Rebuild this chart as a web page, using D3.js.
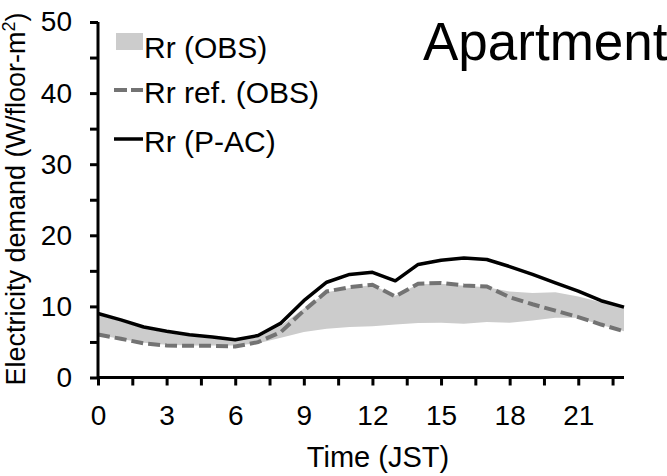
<!DOCTYPE html>
<html><head><meta charset="utf-8">
<script src="https://cdn.jsdelivr.net/npm/d3@7"></script>
<style>
html,body{margin:0;padding:0;background:#fff;}
svg{display:block;font-family:"Liberation Sans",Arial,sans-serif;}
</style></head>
<body>
<svg id="c" width="667" height="476"></svg>
<script>
const hours = [0,1,2,3,4,5,6,7,8,9,10,11,12,13,14,15,16,17,18,19,20,21,22,23];
const rrPAC = [9.0,8.1,7.1,6.5,6.0,5.7,5.3,5.9,7.65,10.8,13.4,14.5,14.8,13.6,15.9,16.5,16.8,16.6,15.6,14.5,13.3,12.15,10.8,9.9];
const rrRef = [6.05,5.45,4.8,4.5,4.45,4.45,4.35,4.97,6.4,9.4,12.1,12.7,13.05,11.4,13.2,13.3,12.95,12.8,11.3,10.3,9.4,8.5,7.45,6.5];
const obsLow = [6.0,5.4,4.9,4.6,4.5,4.5,4.5,4.8,5.6,6.4,6.85,7.1,7.2,7.45,7.65,7.7,7.55,7.8,7.7,8.0,8.4,8.4,7.4,6.5];
const obsHigh = [8.8,7.9,6.9,6.3,5.85,5.5,5.2,5.7,7.3,9.7,12.0,12.6,13.0,11.5,13.1,13.2,12.9,12.7,12.1,11.9,12.0,11.4,10.6,9.8];
const xTickLabels = [0,3,6,9,12,15,18,21];
const yTickLabels = [0,10,20,30,40,50];
const legendLabels = ["Rr (OBS)","Rr ref. (OBS)","Rr (P-AC)"];
const panelTitle = "Apartment";

const svg = d3.select("#c");
const x = d3.scaleLinear().domain([0,23]).range([98,624]);
const y = d3.scaleLinear().domain([0,50]).range([377.5,22]);

const band = hours.map((h,i)=>({h, lo:obsLow[i], hi:obsHigh[i]}));
svg.append("path").datum(band)
  .attr("d", d3.area().x(d=>x(d.h)).y0(d=>y(d.lo)).y1(d=>y(d.hi)))
  .attr("fill","#cccccc");

svg.append("path").datum(hours.map((h,i)=>[h,rrRef[i]]))
  .attr("d", d3.line().x(d=>x(d[0])).y(d=>y(d[1])))
  .attr("fill","none").attr("stroke","#737373").attr("stroke-width",4)
  .attr("stroke-dasharray","12,5");

svg.append("path").datum(hours.map((h,i)=>[h,rrPAC[i]]))
  .attr("d", d3.line().x(d=>x(d[0])).y(d=>y(d[1])))
  .attr("fill","none").attr("stroke","#000").attr("stroke-width",3.5)
  .attr("stroke-linejoin","round");

// Y axis
const yAxis = svg.append("g").attr("transform",`translate(${x(0)},0)`)
  .call(d3.axisLeft(y).tickValues(d3.range(0,51,5)).tickSize(8).tickFormat(d=>yTickLabels.includes(d)?d:"").tickPadding(18));
// X axis
const xAxis = svg.append("g").attr("transform",`translate(0,${y(0)})`)
  .call(d3.axisBottom(x).tickValues(d3.range(0,23,1.5)).tickSize(8).tickFormat(d=>xTickLabels.includes(d)?d:"").tickPadding(20));
[yAxis,xAxis].forEach(g=>{
  g.select(".domain").attr("stroke","#000").attr("stroke-width",3);
  g.selectAll(".tick line").attr("stroke","#000").attr("stroke-width",3);
  g.selectAll("text").attr("font-size",28).attr("fill","#000").attr("font-family","Liberation Sans, Arial, sans-serif");
});
yAxis.select(".domain").attr("d",`M0,${y(0)}V${y(50)}`);
xAxis.select(".domain").attr("d",`M${x(0)},0H${x(23)}`);

// Axis titles
svg.append("text").attr("x",378).attr("y",467).attr("text-anchor","middle")
  .attr("font-size",29).text("Time (JST)");
const yt = svg.append("text").attr("transform","translate(25,199) rotate(-90)")
  .attr("text-anchor","middle").attr("font-size",27);
yt.append("tspan").text("Electricity demand (W/floor-m");
yt.append("tspan").attr("dy",-10).attr("font-size",18).text("2");
yt.append("tspan").attr("dy",10).text(")");

// Title
svg.append("text").attr("x",423).attr("y",60).attr("font-size",53).text(panelTitle);

// Legend
const lg = svg.append("g");
lg.append("rect").attr("x",116).attr("y",33).attr("width",27).attr("height",17).attr("fill","#cccccc");
lg.append("line").attr("x1",114).attr("x2",143).attr("y1",90).attr("y2",90)
  .attr("stroke","#737373").attr("stroke-width",4).attr("stroke-dasharray","13,4");
lg.append("line").attr("x1",114).attr("x2",143).attr("y1",139).attr("y2",139)
  .attr("stroke","#000").attr("stroke-width",3.5);
const lgY = [58,103,152];
legendLabels.forEach((t,i)=>{
  lg.append("text").attr("x",144).attr("y",lgY[i]).attr("font-size",30).text(t);
});
</script>
</body></html>
